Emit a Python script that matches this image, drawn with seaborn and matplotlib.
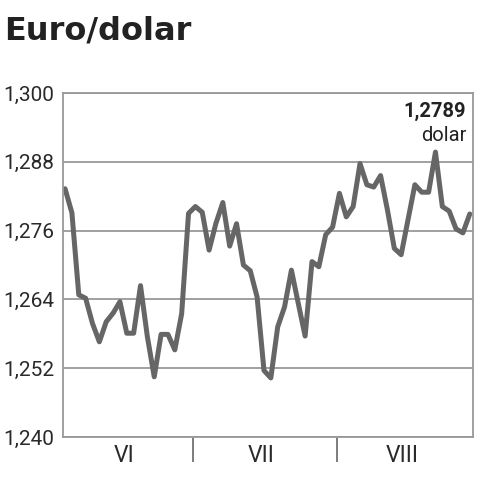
import numpy as np
import pandas as pd
import matplotlib
matplotlib.use("Agg")
import matplotlib.pyplot as plt
from matplotlib.ticker import FixedLocator
import seaborn as sns

# daily EUR/USD rate, June - August
rate = [1.2833, 1.2791, 1.2648, 1.2642, 1.2598, 1.2566, 1.2601, 1.2616, 1.2636, 1.2581,
        1.2581, 1.2664, 1.2575, 1.2505, 1.2579, 1.2579, 1.2552, 1.2615, 1.2790,
        1.2802, 1.2792, 1.2726, 1.2773, 1.2809, 1.2733, 1.2772, 1.2700, 1.2690, 1.2644,
        1.2516, 1.2503, 1.2592, 1.2627, 1.2691, 1.2633, 1.2576, 1.2706, 1.2697, 1.2753,
        1.2766,
        1.2825, 1.2784, 1.2802, 1.2877, 1.2840, 1.2836, 1.2856, 1.2796, 1.2729, 1.2718,
        1.2779, 1.2840, 1.2827, 1.2827, 1.2897, 1.2802, 1.2794, 1.2763, 1.2756, 1.2789]
months = ["VI", "VII", "VIII"]
days_in_month = [19, 21, 20]
yticks = [1.240, 1.252, 1.264, 1.276, 1.288, 1.300]
last_label = "1,2789"
unit_label = "dolar"

df = pd.DataFrame({"day": np.arange(len(rate)), "rate": rate})

sns.set_style("white")
plt.rcParams["font.family"] = ["Roboto", "DejaVu Sans"]

fig = plt.figure(figsize=(4.82, 4.80), dpi=100)
ax = fig.add_axes([0.1307, 0.0896, 0.8496, 0.7166])

sns.lineplot(data=df, x="day", y="rate", ax=ax, color="#666666", linewidth=3.6,
             solid_joinstyle="round", solid_capstyle="round")

ax.set_xlim(-0.3, 59.4)
ax.set_ylim(yticks[0], yticks[-1])

# y axis
ax.set_yticks(yticks)
ax.set_yticklabels([f"{v:.3f}".replace(".", ",") for v in yticks])
ax.yaxis.grid(True, color="#999999", linewidth=1.3)
ax.tick_params(axis="y", length=0, pad=6, labelsize=15, labelcolor="#2a2a2a")

# x axis: months
ends = np.cumsum(days_in_month)
starts = ends - np.array(days_in_month)
centers = (starts + ends - 1) / 2 - 0.4
ax.set_xticks(centers)
ax.set_xticklabels(months)
ax.xaxis.set_minor_locator(FixedLocator(ends[:-1] - 0.4))
ax.tick_params(axis="x", which="major", length=0, pad=5, labelsize=16.5, labelcolor="#2a2a2a")
ax.tick_params(axis="x", which="minor", direction="out", length=18, width=1.2,
               color="#666666", bottom=True)
ax.set_xlabel("")
ax.set_ylabel("")

for s in ax.spines.values():
    s.set_visible(True)
    s.set_color("#999999")
    s.set_linewidth(1.3)

ax.text(0.985, 0.975, last_label, transform=ax.transAxes, ha="right", va="top",
        fontsize=14.5, fontweight="bold", color="#222222")
ax.text(0.985, 0.905, unit_label, transform=ax.transAxes, ha="right", va="top",
        fontsize=14.5, color="#222222")

fig.text(0.008, 0.935, "Euro/dolar", ha="left", va="center", fontsize=23,
         fontweight="bold", color="#222222", family=["DejaVu Sans"])

fig.savefig("out.png", dpi=100)
